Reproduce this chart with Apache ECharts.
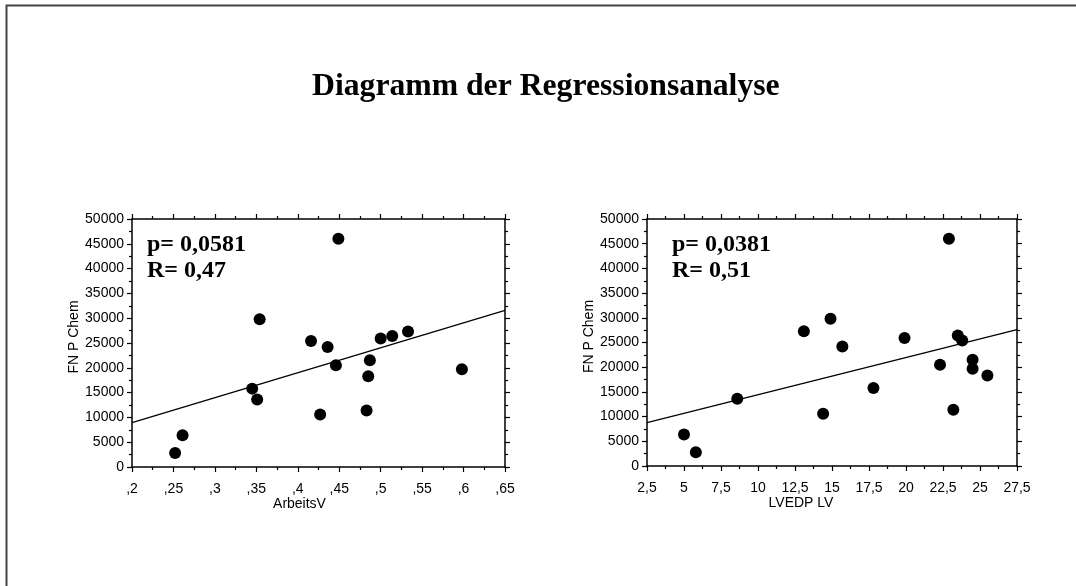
<!DOCTYPE html>
<html>
<head>
<meta charset="utf-8">
<script src="https://cdn.jsdelivr.net/npm/echarts@6/dist/echarts.min.js"></script>
<style>
html,body{margin:0;padding:0;background:#fff;}
#chart{width:1076px;height:586px;}
</style>
</head>
<body>
<div id="chart"></div>
<script>
// ---- data ----
const titleText = 'Diagramm der Regressionsanalyse';
const yName = 'FN P Chem';
const leftXName = 'ArbeitsV';
const rightXName = 'LVEDP LV';

const arbeitsV = [0.252, 0.261, 0.345, 0.351, 0.354, 0.416, 0.427, 0.436, 0.449, 0.446, 0.483, 0.485, 0.487, 0.500, 0.514, 0.533, 0.598];
const fnLeft   = [2800, 6400, 15800, 13600, 29800, 25400, 10600, 24200, 46000, 20500, 11400, 18300, 21500, 25900, 26400, 27300, 19700];
const leftLineX = [0.2, 0.65];
const leftLineY = [8950, 31600];
const leftStats = ['p= 0,0581', 'R= 0,47'];

const lvedp   = [5.0, 5.8, 8.6, 13.1, 14.4, 14.9, 15.7, 17.8, 19.9, 22.3, 22.9, 23.2, 23.5, 23.8, 24.5, 24.5, 25.5];
const fnRight = [6400, 2800, 13600, 27300, 10600, 29800, 24200, 15800, 25900, 20500, 46000, 11400, 26400, 25400, 21500, 19700, 18300];
const rightLineX = [2.5, 27.5];
const rightLineY = [8800, 27600];
const rightStats = ['p= 0,0381', 'R= 0,51'];

const leftXTicks = { min: 0.2, max: 0.65, interval: 0.05 };
const rightXTicks = { min: 2.5, max: 27.5, interval: 2.5 };
const yTicks = { min: 0, max: 50000, interval: 5000 };

// ---- chart ----
const SANS = '"Liberation Sans", Arial, sans-serif';
const SERIF = '"Liberation Serif", "Times New Roman", serif';
const pairs = (xs, ys) => xs.map((x, i) => [x, ys[i]]);
const fmtLeft = v => { const s = String(Number(v.toFixed(3))); return s.replace(/^0\./, ','); };
const fmtRight = v => String(Number(v.toFixed(2))).replace('.', ',');

const axisLine = { show: true, onZero: false, lineStyle: { color: '#000', width: 1.5 } };
const axisTick = { show: true, inside: false, length: 5, lineStyle: { color: '#000', width: 1.2 } };
const minorTick = { show: true, splitNumber: 2, length: 3, lineStyle: { color: '#000', width: 1.2 } };
const labelStyle = { color: '#000', fontFamily: SANS, fontSize: 14 };

function xAxes(gridIndex, ticks, name, fmt, shift) {
  return [
    { type: 'value', gridIndex, position: 'bottom', min: ticks.min, max: ticks.max, interval: ticks.interval,
      axisLine, axisTick, minorTick, splitLine: { show: false },
      axisLabel: Object.assign({ margin: 15, formatter: fmt }, labelStyle),
      name, nameLocation: 'middle', nameGap: 29,
      nameTextStyle: { color: '#000', fontFamily: SANS, fontSize: 14, padding: [0, shift * 2, 0, 0] } },
    { type: 'value', gridIndex, position: 'top', min: ticks.min, max: ticks.max, interval: ticks.interval,
      axisLine, axisTick, minorTick, splitLine: { show: false }, axisLabel: { show: false } }
  ];
}
function yAxes(gridIndex) {
  return [
    { type: 'value', gridIndex, position: 'left', min: yTicks.min, max: yTicks.max, interval: yTicks.interval,
      axisLine, axisTick, minorTick, splitLine: { show: false },
      axisLabel: Object.assign({ margin: 8, formatter: v => String(v) }, labelStyle),
      name: yName, nameLocation: 'middle', nameGap: 46,
      nameTextStyle: { color: '#000', fontFamily: SANS, fontSize: 14, padding: [0, 0, 0, 12] } },
    { type: 'value', gridIndex, position: 'right', min: yTicks.min, max: yTicks.max, interval: yTicks.interval,
      axisLine, axisTick, minorTick, splitLine: { show: false }, axisLabel: { show: false } }
  ];
}

function statText(lines, x) {
  return lines.map((t, i) => ({
    type: 'text', z: 10,
    style: { text: t, x: x, y: 245 + i * 26, font: 'bold 24px ' + SERIF, fill: '#000', verticalAlign: 'middle' }
  }));
}

const chart = echarts.init(document.getElementById('chart'), null, { renderer: 'canvas' });
chart.setOption({
  animation: false,
  backgroundColor: '#fff',
  title: { text: titleText, left: 307, top: 66,
    textStyle: { fontFamily: SERIF, fontWeight: 'bold', fontSize: 31.7, color: '#000' } },
  grid: [
    { left: 132, top: 219, width: 373, height: 248 },
    { left: 647, top: 219, width: 370, height: 247 }
  ],
  xAxis: [].concat(xAxes(0, leftXTicks, leftXName, fmtLeft, 19), xAxes(1, rightXTicks, rightXName, fmtRight, 31)),
  yAxis: [].concat(yAxes(0), yAxes(1)),
  series: [
    { type: 'scatter', xAxisIndex: 0, yAxisIndex: 0, data: pairs(arbeitsV, fnLeft),
      symbol: 'circle', symbolSize: 12, itemStyle: { color: '#000', opacity: 1 } },
    { type: 'line', xAxisIndex: 0, yAxisIndex: 0, data: pairs(leftLineX, leftLineY),
      showSymbol: false, lineStyle: { color: '#000', width: 1.3 } },
    { type: 'scatter', xAxisIndex: 2, yAxisIndex: 2, data: pairs(lvedp, fnRight),
      symbol: 'circle', symbolSize: 12, itemStyle: { color: '#000', opacity: 1 } },
    { type: 'line', xAxisIndex: 2, yAxisIndex: 2, data: pairs(rightLineX, rightLineY),
      showSymbol: false, lineStyle: { color: '#000', width: 1.3 } }
  ],
  graphic: [
    { type: 'rect', shape: { x: 6.5, y: 5.5, width: 1200, height: 700 },
      style: { fill: null, stroke: '#444', lineWidth: 2 }, silent: true }
  ].concat(statText(leftStats, 147), statText(rightStats, 672))
});
</script>
</body>
</html>
